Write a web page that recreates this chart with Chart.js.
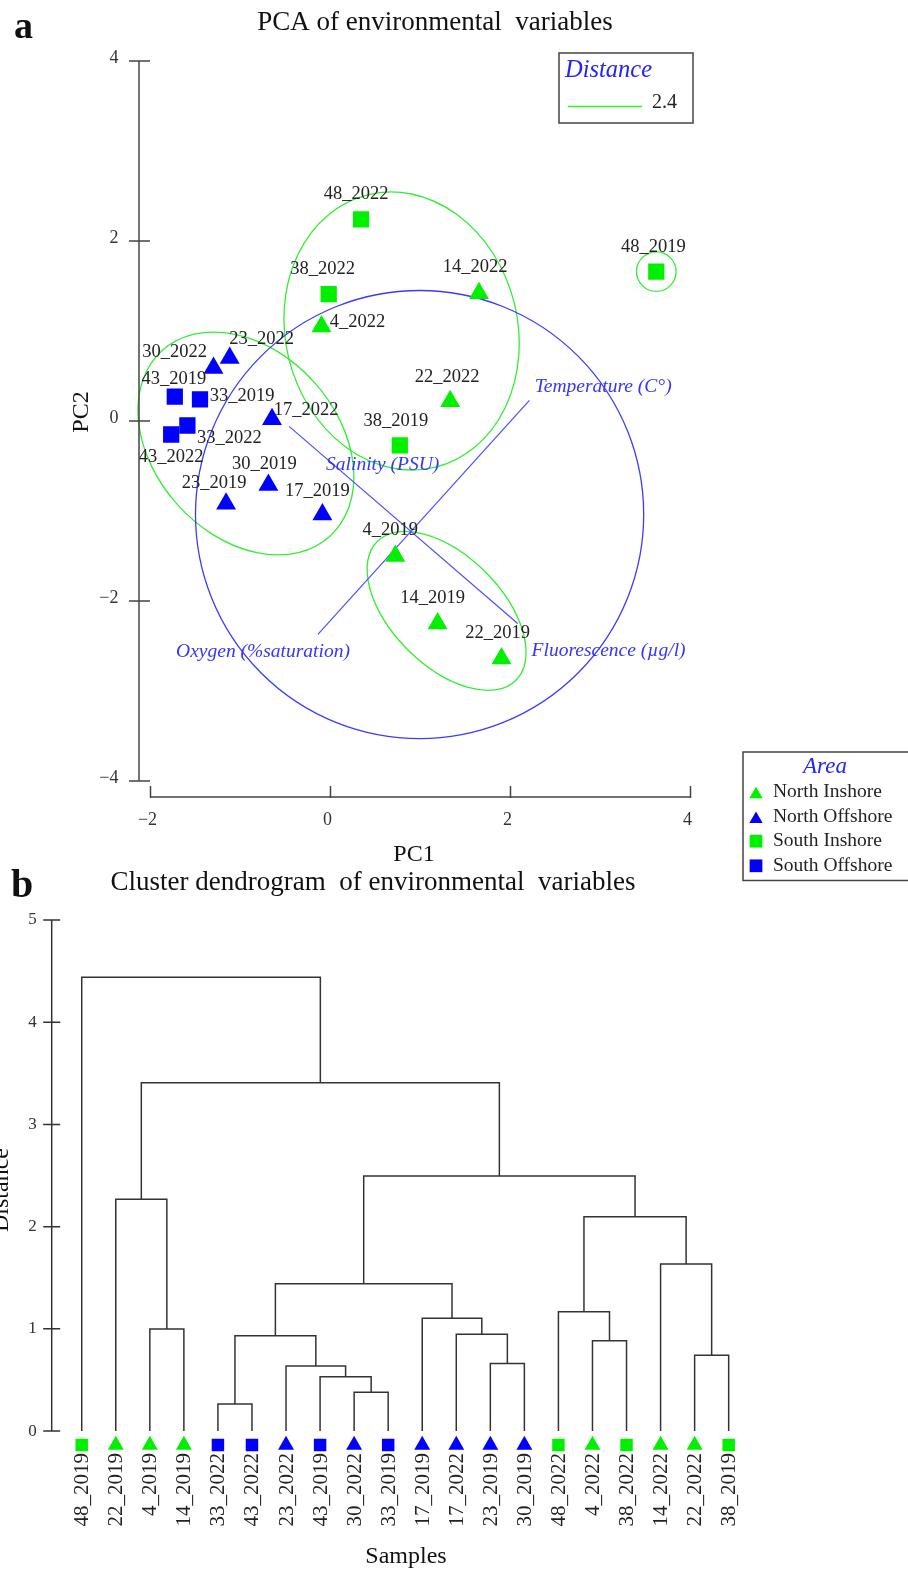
<!DOCTYPE html>
<html>
<head>
<meta charset="utf-8">
<title>PCA and cluster dendrogram of environmental variables</title>
<script src="https://cdn.jsdelivr.net/npm/chart.js@4.4.0/dist/chart.umd.min.js"></script>
<style>
  html, body { margin: 0; padding: 0; background: #fff; }
  body { width: 908px; height: 1569px; position: relative; overflow: hidden; }
  canvas { position: absolute; left: 0; }
  #pca { top: 0; }
  #dendro { top: 855px; }
</style>
</head>
<body>
<canvas id="pca" width="908" height="890"></canvas>
<canvas id="dendro" width="908" height="714"></canvas>
<script>
const SERIF = '"Liberation Serif", "DejaVu Serif", serif';

// areas (shared by both panels)
const areaNames = ['North Inshore', 'North Offshore', 'South Inshore', 'South Offshore'];
const areaColors = ['#00f000', '#0000ff', '#00f000', '#0000ff'];
const areaShapes = ['triangle', 'triangle', 'rect', 'rect'];

// PCA scores
const pcaSamples = ['48_2022', '38_2022', '4_2022', '14_2022', '48_2019', '22_2022', '38_2019', '23_2022', '30_2022', '43_2019',
  '33_2019', '17_2022', '33_2022', '43_2022', '30_2019', '23_2019', '17_2019', '4_2019', '14_2019', '22_2019'];
const pcaArea = [2, 2, 0, 0, 2, 0, 2, 1, 1, 3, 3, 1, 3, 3, 1, 1, 1, 0, 0, 0];
const pc1 = [0.34, -0.02, -0.10, 1.65, 3.62, 1.33, 0.77, -1.12, -1.30, -1.73, -1.45, -0.65, -1.59, -1.77, -0.69, -1.16, -0.09, 0.72, 1.19, 1.90];
const pc2 = [2.24, 1.41, 1.05, 1.42, 1.66, 0.22, -0.27, 0.70, 0.59, 0.27, 0.24, 0.02, -0.05, -0.15, -0.71, -0.92, -1.04, -1.50, -2.25, -2.64];
const pcXTicks = [-2, 0, 2, 4];
const pcYTicks = [-4, -2, 0, 2, 4];

// variable vectors (end points) and where their names sit
const varNames = ['Temperature (C°)', 'Oxygen (%saturation)', 'Salinity (PSU)', 'Fluorescence (µg/l)'];
const varEndX = [2.21, -0.14, -0.46, 2.08];
const varEndY = [0.23, -2.37, -0.06, -2.25];
const varTextX = [3.03, -0.75, 0.58, 3.09];
const varTextY = [0.38, -2.56, -0.49, -2.55];

// cluster outlines at distance 2.4 (centre, radii in PC units, tilt in degrees)
const ringX = [0.79, -0.94, 1.29, 3.62, 0.99];
const ringY = [1.00, -0.25, -2.11, 1.66, -1.04];
const ringRx = [1.29, 1.39, 1.09, 0.22, 2.49];
const ringRy = [1.56, 1.02, 0.61, 0.22, 2.49];
const ringTilt = [-14, 48, 45, 0, 0];
const cutDistance = '2.4';

// dendrogram, panel b
const leafNames = ['48_2019', '22_2019', '4_2019', '14_2019', '33_2022', '43_2022', '23_2022', '43_2019', '30_2022', '33_2019',
  '17_2019', '17_2022', '23_2019', '30_2019', '48_2022', '4_2022', '38_2022', '14_2022', '22_2022', '38_2019'];
const leafArea = [2, 0, 0, 0, 3, 3, 1, 3, 1, 3, 1, 1, 1, 1, 2, 0, 2, 0, 0, 2];
// merges: node ids 0-19 are leaves, 20+ are the merges in this order
const mergeA = [4, 8, 7, 6, 12, 18, 15, 20, 11, 2, 10, 14, 27, 17, 31, 1, 32, 35, 0];
const mergeB = [5, 9, 21, 22, 13, 19, 16, 23, 24, 3, 28, 26, 30, 25, 33, 29, 34, 36, 37];
const mergeH = [0.264, 0.379, 0.531, 0.636, 0.662, 0.741, 0.884, 0.932, 0.946, 0.998,
  1.103, 1.167, 1.441, 1.634, 2.097, 2.267, 2.495, 3.408, 4.439];
const distTicks = [0, 1, 2, 3, 4, 5];

// label placement tweaks for panel a (pixels from the marker)
const labelNudge = [[-5, -25], [-6, -25], [36, -4], [-4, -26], [-3, -24], [-3, -24], [-4, -24], [32, -19], [-39, -16], [-1, -18],
  [42, -3], [34, -9], [42, 13], [0, 23], [-4, -21], [-12, -21], [-5, -23], [-5, -26], [-5, -25], [-4, -25]];

const minusSign = v => String(v).replace('-', '\u2212');

function mark(ctx, shape, cx, cy, r, color) {
  ctx.fillStyle = color;
  ctx.beginPath();
  if (shape === 'triangle') {
    ctx.moveTo(cx, cy - r);
    ctx.lineTo(cx + 0.866 * r, cy + r / 2);
    ctx.lineTo(cx - 0.866 * r, cy + r / 2);
  } else {
    const s = r * Math.SQRT1_2;
    ctx.rect(cx - s, cy - s, 2 * s, 2 * s);
  }
  ctx.closePath();
  ctx.fill();
}

// ---------- panel a : PCA ----------
const pcaSets = areaNames.map((name, a) => ({
  label: name,
  data: pcaSamples.map((s, i) => ({ x: pc1[i], y: pc2[i], a: pcaArea[i] })).filter(p => p.a === a),
  pointStyle: areaShapes[a],
  pointRadius: 11.5,
  backgroundColor: areaColors[a],
  borderWidth: 0
}));
const vectorSets = [[0, 1], [2, 3]].map(pair => ({
  label: 'vector',
  data: pair.map(k => ({ x: varEndX[k], y: varEndY[k] })),
  showLine: true,
  borderColor: '#4d4dff',
  borderWidth: 1.2,
  pointRadius: 0
}));

const pcaDecor = {
  id: 'pcaDecor',
  beforeDatasetsDraw(chart) {
    const { ctx, scales: { x, y } } = chart;
    const ux = x.getPixelForValue(1) - x.getPixelForValue(0);
    const uy = y.getPixelForValue(0) - y.getPixelForValue(1);
    ctx.save();
    ringX.forEach((cx, i) => {
      ctx.beginPath();
      ctx.ellipse(x.getPixelForValue(cx), y.getPixelForValue(ringY[i]), ringRx[i] * ux, ringRy[i] * uy,
        ringTilt[i] * Math.PI / 180, 0, 2 * Math.PI);
      ctx.strokeStyle = i === 4 ? '#3b3bff' : '#33ee33';
      ctx.lineWidth = 1.3;
      ctx.stroke();
    });
    ctx.restore();
  },
  afterDatasetsDraw(chart) {
    const { ctx, chartArea, scales: { x, y } } = chart;
    ctx.save();
    // sample labels
    ctx.font = '18.5px ' + SERIF;
    ctx.fillStyle = '#222';
    ctx.textAlign = 'center';
    ctx.textBaseline = 'middle';
    pcaSamples.forEach((s, i) => {
      ctx.fillText(s, x.getPixelForValue(pc1[i]) + labelNudge[i][0], y.getPixelForValue(pc2[i]) + labelNudge[i][1]);
    });
    // variable names
    ctx.font = 'italic 19.5px ' + SERIF;
    ctx.fillStyle = '#3535ff';
    varNames.forEach((v, k) => ctx.fillText(v, x.getPixelForValue(varTextX[k]), y.getPixelForValue(varTextY[k])));

    // offset axes
    ctx.strokeStyle = '#444';
    ctx.lineWidth = 1.5;
    const ax = chartArea.left - 11.5;
    ctx.beginPath();
    ctx.moveTo(ax, y.getPixelForValue(y.max));
    ctx.lineTo(ax, y.getPixelForValue(y.min));
    y.ticks.forEach(t => {
      const py = y.getPixelForValue(t.value);
      ctx.moveTo(ax - 10, py);
      ctx.lineTo(ax + 11, py);
    });
    const ay = chartArea.bottom + 16;
    ctx.moveTo(x.getPixelForValue(x.min), ay);
    ctx.lineTo(x.getPixelForValue(x.max), ay);
    x.ticks.forEach(t => {
      const px = x.getPixelForValue(t.value);
      ctx.moveTo(px, ay + 1);
      ctx.lineTo(px, ay - 11);
    });
    ctx.stroke();

    // titles
    ctx.fillStyle = '#111';
    ctx.textBaseline = 'alphabetic';
    ctx.textAlign = 'left';
    ctx.font = 'bold 38px ' + SERIF;
    ctx.fillText('a', 14, 38);
    ctx.textAlign = 'center';
    ctx.font = '27px ' + SERIF;
    ctx.fillText('PCA of environmental  variables', 435, 30);
    ctx.font = '24px ' + SERIF;
    ctx.fillText('PC1', 414, 861);
    ctx.save();
    ctx.translate(88, 412);
    ctx.rotate(-Math.PI / 2);
    ctx.fillText('PC2', 0, 0);
    ctx.restore();

    // distance legend
    ctx.strokeStyle = '#444';
    ctx.lineWidth = 1.5;
    ctx.strokeRect(559, 53, 134, 70);
    ctx.textAlign = 'left';
    ctx.font = 'italic 24.5px ' + SERIF;
    ctx.fillStyle = '#2323ff';
    ctx.fillText('Distance', 565, 77);
    ctx.strokeStyle = '#33ee33';
    ctx.lineWidth = 1.3;
    ctx.beginPath();
    ctx.moveTo(568, 106.5);
    ctx.lineTo(642, 106.5);
    ctx.stroke();
    ctx.fillStyle = '#222';
    ctx.font = '20px ' + SERIF;
    ctx.textBaseline = 'middle';
    ctx.fillText(cutDistance, 652, 103);

    // area legend
    ctx.strokeStyle = '#444';
    ctx.lineWidth = 1.5;
    ctx.strokeRect(743, 752, 180, 128.5);
    ctx.textAlign = 'center';
    ctx.font = 'italic 23px ' + SERIF;
    ctx.fillStyle = '#2323ff';
    ctx.fillText('Area', 825, 767);
    ctx.textAlign = 'left';
    ctx.font = '19.5px ' + SERIF;
    areaNames.forEach((name, a) => {
      const ry = 792 + a * 24.6;
      if (areaShapes[a] === 'triangle') mark(ctx, 'triangle', 756, ry + 2.5, 7.7, areaColors[a]);
      else mark(ctx, 'rect', 756, ry, 9, areaColors[a]);
      ctx.fillStyle = '#222';
      ctx.fillText(name, 773, ry);
    });
    ctx.restore();
  }
};

new Chart(document.getElementById('pca'), {
  type: 'scatter',
  data: { datasets: [...pcaSets, ...vectorSets] },
  options: {
    responsive: false,
    animation: false,
    layout: { padding: { left: 0, top: 61, right: 217.5, bottom: 0 } },
    plugins: { legend: { display: false }, tooltip: { enabled: false } },
    scales: {
      x: {
        type: 'linear', min: -2, max: 4,
        afterBuildTicks: s => { s.ticks = pcXTicks.map(v => ({ value: v })); },
        afterFit: s => { s.height = 109; },
        grid: { display: false, drawTicks: false },
        border: { display: false },
        ticks: { padding: 28, labelOffset: -3, color: '#333', font: { family: SERIF, size: 18 }, callback: minusSign }
      },
      y: {
        type: 'linear', min: -4, max: 4,
        afterBuildTicks: s => { s.ticks = pcYTicks.map(v => ({ value: v })); },
        afterFit: s => { s.width = 150.5; },
        grid: { display: false, drawTicks: false },
        border: { display: false },
        ticks: { padding: 32, labelOffset: -3, color: '#333', font: { family: SERIF, size: 18 }, callback: minusSign }
      }
    }
  },
  plugins: [pcaDecor]
});

// ---------- panel b : dendrogram ----------
const nodeX = leafNames.map((n, i) => i);
const nodeH = leafNames.map(() => 0);
const linkSets = [];
mergeH.forEach((h, k) => {
  const a = mergeA[k], b = mergeB[k];
  linkSets.push({
    label: 'merge ' + k,
    data: [{ x: nodeX[a], y: nodeH[a] }, { x: nodeX[a], y: h }, { x: nodeX[b], y: h }, { x: nodeX[b], y: nodeH[b] }],
    showLine: true,
    borderColor: '#333',
    borderWidth: 1.5,
    pointRadius: 0
  });
  nodeX.push((nodeX[a] + nodeX[b]) / 2);
  nodeH.push(h);
});
const leafMarkY = -0.137; // markers sit just under distance 0
const leafSets = areaNames.map((name, a) => ({
  label: name,
  data: leafNames.map((n, i) => ({ x: i, y: leafMarkY, a: leafArea[i] })).filter(p => p.a === a),
  pointStyle: areaShapes[a],
  pointRadius: a < 2 ? 9.2 : 8.8,
  backgroundColor: areaColors[a],
  borderWidth: 0
}));

const dendroDecor = {
  id: 'dendroDecor',
  afterDatasetsDraw(chart) {
    const { ctx, chartArea, scales: { x, y } } = chart;
    ctx.save();
    // axis line with crossing ticks
    const ax = chartArea.left - 13;
    const y0 = y.getPixelForValue(0);
    ctx.strokeStyle = '#333';
    ctx.lineWidth = 1.5;
    ctx.beginPath();
    ctx.moveTo(ax, y.getPixelForValue(y.max));
    ctx.lineTo(ax, y0);
    y.ticks.forEach(t => {
      const py = y.getPixelForValue(t.value);
      ctx.moveTo(ax - 8.5, py);
      ctx.lineTo(ax + 8.5, py);
    });
    ctx.stroke();

    // leaf names, rotated
    ctx.fillStyle = '#222';
    ctx.font = '21px ' + SERIF;
    ctx.textAlign = 'right';
    ctx.textBaseline = 'middle';
    leafNames.forEach((n, i) => {
      ctx.save();
      ctx.translate(x.getPixelForValue(i) + 1, y0 + 22);
      ctx.rotate(-Math.PI / 2);
      ctx.fillText(n, 0, 0);
      ctx.restore();
    });

    // titles
    ctx.fillStyle = '#111';
    ctx.textBaseline = 'alphabetic';
    ctx.textAlign = 'left';
    ctx.font = 'bold 40px ' + SERIF;
    ctx.fillText('b', 11, 42);
    ctx.textAlign = 'center';
    ctx.font = '27px ' + SERIF;
    ctx.fillText('Cluster dendrogram  of environmental  variables', 373, 35);
    ctx.font = '24px ' + SERIF;
    ctx.fillText('Samples', 406, 708);
    ctx.translate(8, 335);
    ctx.rotate(-Math.PI / 2);
    ctx.fillText('Distance', 0, 0);
    ctx.restore();
  }
};

new Chart(document.getElementById('dendro'), {
  type: 'scatter',
  data: { datasets: [...leafSets, ...linkSets] },
  options: {
    responsive: false,
    animation: false,
    layout: { padding: { left: 0, top: 65, right: 162.3, bottom: 112.4 } },
    plugins: { legend: { display: false }, tooltip: { enabled: false } },
    scales: {
      x: { type: 'linear', min: -0.5, max: leafNames.length - 0.5, display: false },
      y: {
        type: 'linear', min: -0.25, max: 5,
        afterBuildTicks: s => { s.ticks = distTicks.map(v => ({ value: v })); },
        afterFit: s => { s.width = 64.7; },
        grid: { display: false, drawTicks: false },
        border: { display: false },
        ticks: { padding: 28, color: '#333', font: { family: SERIF, size: 17 } }
      }
    }
  },
  plugins: [dendroDecor]
});
</script>
</body>
</html>
